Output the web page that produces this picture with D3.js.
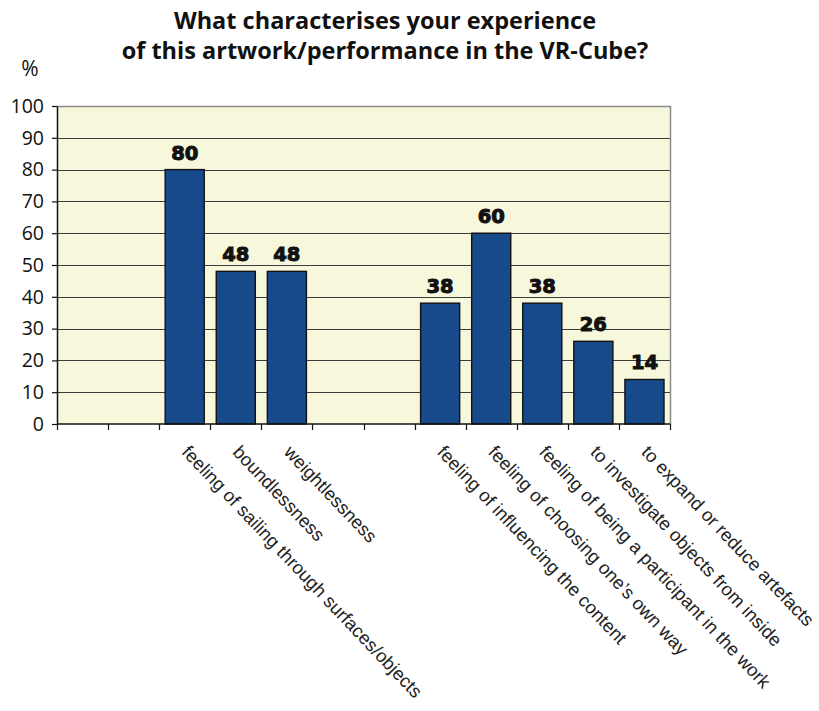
<!DOCTYPE html>
<html>
<head>
<meta charset="utf-8">
<script src="https://cdn.jsdelivr.net/npm/d3@7"></script>
<style>
  html, body { margin: 0; padding: 0; background: #ffffff; }
  svg { display: block; }
</style>
</head>
<body>
<svg id="chart" width="819" height="711"></svg>
<script>
// Survey answers; blank entries are empty slots on the category axis.
const categories = [
  "", "",
  "feeling of sailing through surfaces/objects",
  "boundlessness",
  "weightlessness",
  "", "",
  "feeling of influencing the content",
  "feeling of choosing one’s own way",
  "feeling of being a participant in the work",
  "to investigate objects from inside",
  "to expand or reduce artefacts"
];
const values = [null, null, 80, 48, 48, null, null, 38, 60, 38, 26, 14];
const yTicks = [0, 10, 20, 30, 40, 50, 60, 70, 80, 90, 100];
const titleLines = ["What characterises your experience", "of this artwork/performance in the VR-Cube?"];

const svg = d3.select("#chart");
const plot = { left: 57, right: 670, top: 106, bottom: 424 };

const x = d3.scaleBand()
  .domain(d3.range(categories.length))
  .range([plot.left, plot.right])
  .paddingInner(0.235)
  .paddingOuter(0.1175);

const y = d3.scaleLinear().domain([0, 100]).range([plot.bottom, plot.top]);

// Plot background
svg.append("rect")
  .attr("x", plot.left).attr("y", plot.top)
  .attr("width", plot.right - plot.left).attr("height", plot.bottom - plot.top)
  .attr("fill", "#f7f7dc");

// Horizontal gridlines
svg.append("g").selectAll("line")
  .data(yTicks.filter(d => d > 0 && d < 100))
  .join("line")
  .attr("x1", plot.left).attr("x2", plot.right)
  .attr("y1", d => Math.round(y(d)) + 0.5).attr("y2", d => Math.round(y(d)) + 0.5)
  .attr("stroke", "#3c3c3c").attr("stroke-width", 1);

// Top and right frame
svg.append("path")
  .attr("d", `M${plot.left},${plot.top + 0.5}H${plot.right + 0.5}V${plot.bottom}`)
  .attr("fill", "none").attr("stroke", "#8a8a8a").attr("stroke-width", 1.5);

// Bars
const data = categories.map((c, i) => ({ i, c, v: values[i] }));
svg.append("g").selectAll("rect")
  .data(data.filter(d => d.v != null))
  .join("rect")
  .attr("x", d => x(d.i))
  .attr("y", d => y(d.v))
  .attr("width", x.bandwidth())
  .attr("height", d => y(0) - y(d.v))
  .attr("fill", "#174a8b")
  .attr("stroke", "#111111")
  .attr("stroke-width", 1.4);

// Value labels above bars
svg.append("g").selectAll("text")
  .data(data.filter(d => d.v != null))
  .join("text")
  .attr("x", d => x(d.i) + x.bandwidth() / 2)
  .attr("y", d => y(d.v) - 10)
  .attr("text-anchor", "middle")
  .attr("font-family", "DejaVu Sans")
  .attr("font-weight", "bold")
  .attr("font-size", 19.5)
  .attr("fill", "#111")
  .attr("stroke", "#111")
  .attr("stroke-width", 1)
  .text(d => d.v);

// Y axis
const yAxis = svg.append("g")
  .attr("transform", `translate(${plot.left},0)`)
  .call(d3.axisLeft(y).tickValues(yTicks).tickSize(5).tickSizeOuter(0).tickPadding(8));
yAxis.select(".domain").attr("stroke", "#111").attr("stroke-width", 1.5);
yAxis.selectAll(".tick line").attr("stroke", "#111").attr("stroke-width", 1.2);
yAxis.selectAll(".tick text")
  .attr("font-family", "Open Sans")
  .attr("font-size", 19.5)
  .attr("fill", "#111");

// X axis: a tick at every slot boundary
const step = x.step();
const boundaries = d3.range(categories.length + 1).map(k => plot.left + k * step);
svg.append("line")
  .attr("x1", plot.left).attr("x2", plot.right)
  .attr("y1", plot.bottom).attr("y2", plot.bottom)
  .attr("stroke", "#111").attr("stroke-width", 1.5);
svg.append("g").selectAll("line")
  .data(boundaries)
  .join("line")
  .attr("x1", d => Math.round(d) + 0.5).attr("x2", d => Math.round(d) + 0.5)
  .attr("y1", plot.bottom).attr("y2", plot.bottom + 6)
  .attr("stroke", "#111").attr("stroke-width", 1.2);

// Rotated category labels
svg.append("g").selectAll("text")
  .data(data.filter(d => d.c))
  .join("text")
  .attr("transform", d => `translate(${x(d.i) + x.bandwidth() / 2 - 4},${plot.bottom + 29}) rotate(46.5)`)
  .attr("font-family", "Liberation Sans")
  .attr("font-size", 18.5)
  .attr("fill", "#222")
  .text(d => d.c);

// Title
svg.append("g").selectAll("text")
  .data(titleLines)
  .join("text")
  .attr("x", 385)
  .attr("y", (d, i) => 29 + i * 30)
  .attr("text-anchor", "middle")
  .attr("font-family", "Open Sans")
  .attr("font-weight", "bold")
  .attr("font-size", 23.5)
  .attr("fill", "#111")
  .text(d => d);

// Unit label
svg.append("text")
  .attr("x", 30).attr("y", 76)
  .attr("text-anchor", "middle")
  .attr("font-family", "Open Sans")
  .attr("font-size", 21)
  .attr("fill", "#111")
  .text("%");
</script>
</body>
</html>
